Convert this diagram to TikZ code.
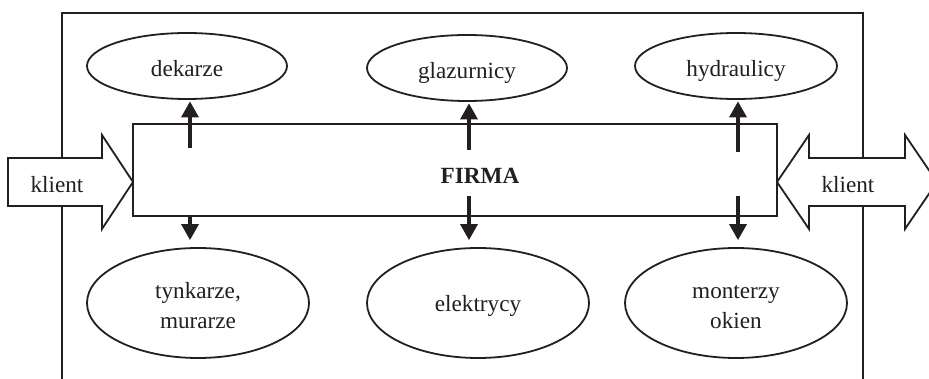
\documentclass[tikz,border=0pt]{standalone}
\usepackage{fontspec}
\setmainfont{Liberation Serif}
\usetikzlibrary{arrows.meta,shapes.geometric}
\definecolor{ink}{RGB}{35,31,32}
\begin{document}
\begin{tikzpicture}[x=1pt,y=-1pt,
  lbl/.style={font=\fontsize{23.2}{31}\selectfont, text=ink, align=center, inner sep=0},
  oval/.style={ellipse, draw=ink, line width=1.8pt, fill=white, inner sep=0,
               font=\fontsize{23.2}{31}\selectfont, text=ink, align=center},
  topoval/.style={oval, minimum width=200pt, minimum height=66pt,
                  text height=22pt, text depth=0pt},
  botoval/.style={oval, minimum width=222pt, minimum height=110pt,
                  text height=52pt, text depth=0pt},
  bigarrow/.style={draw=ink, line width=1.8pt, fill=white, line join=miter},
  frame/.style={draw=ink, line width=1.4pt},
  link/.style={draw=ink, line width=3.4pt, -{Triangle[length=16pt,width=17pt]}}
]
\useasboundingbox (0,0) rectangle (929,379);
\clip (0,0) rectangle (929,379);

% open frame around the whole scheme
\draw[frame] (62,395) -- (62,13) -- (863,13) -- (863,395);

% client arrows
\draw[bigarrow] (8,158) -- (102,158) -- (102,135) -- (133,182) -- (102,229)
  -- (102,206) -- (8,206) -- cycle;
\node[lbl] (kl) at (57,185) {klient};
\draw[bigarrow] (777,182) -- (809,135) -- (809,158) -- (905,158) -- (905,135)
  -- (937,182) -- (905,229) -- (905,206) -- (809,206) -- (809,229) -- cycle;
\node[lbl] (kr) at (848,185) {klient};

% the company
\node[draw=ink, line width=1.8pt, fill=white, minimum width=644pt, minimum height=92pt,
      inner sep=0] (firma) at (455,170) {};
\node[lbl, font=\fontsize{23.2}{31}\selectfont\bfseries] (firmatxt) at (480,176) {FIRMA};

% trades
\node[topoval] (dek) at (187,66) {dekarze};
\node[topoval] (gla) at (467,68) {glazurnicy};
\node[topoval, minimum width=202pt] (hyd) at (736,66) {hydraulicy};
\node[botoval] (tyn) at (198,303) {tynkarze,\\murarze};
\node[botoval, text height=18pt] (ele) at (478,303) {elektrycy};
\node[botoval] (mon) at (736,303) {monterzy\\okien};

% links from the company to the trades
\coordinate (u1) at (190,148);
\coordinate (u2) at (469,150);
\coordinate (u3) at (738,152);
\coordinate (d1) at (190,216);
\coordinate (d2) at (469,196);
\coordinate (d3) at (738,196);
\draw[link, shorten >=1.5pt] (u1) -- (u1 |- dek.south);
\draw[link, shorten >=1.5pt] (u2) -- (u2 |- gla.south);
\draw[link, shorten >=1.5pt] (u3) -- (u3 |- hyd.south);
\draw[link, shorten >=7pt] (d1) -- (d1 |- tyn.north);
\draw[link, shorten >=7pt] (d2) -- (d2 |- ele.north);
\draw[link, shorten >=7pt] (d3) -- (d3 |- mon.north);
\end{tikzpicture}
\end{document}
